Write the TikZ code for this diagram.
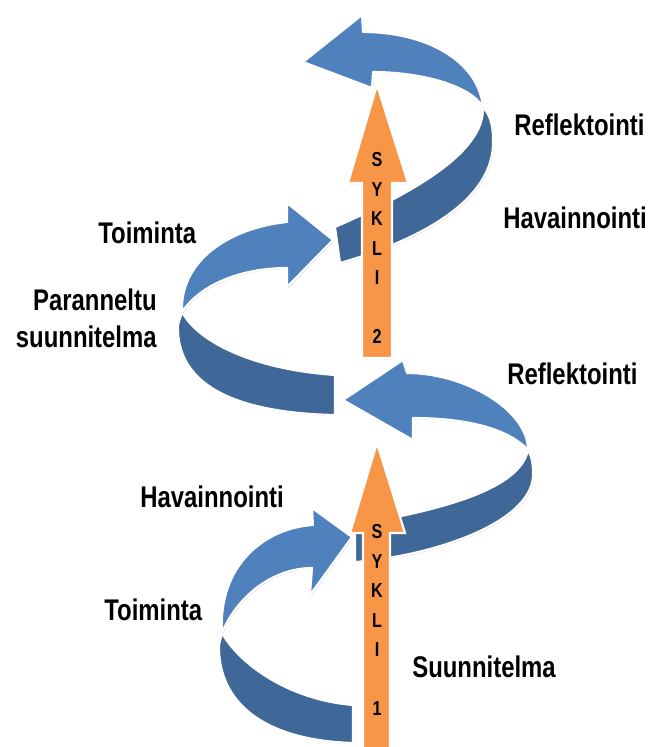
\documentclass[tikz,border=0pt]{standalone}
\usepackage{fontspec}
\usepackage{tikz}
\usetikzlibrary{shapes,arrows,positioning,calc,shadows}
\usepackage{xcolor}
\newfontfamily\phasefont[FakeStretch=0.8]{Liberation Sans}
\definecolor{ribbonlight}{HTML}{4F81BD}
\definecolor{ribbondark}{HTML}{3F6797}
\definecolor{syklicol}{HTML}{F79646}

\begin{document}
\begin{tikzpicture}[
    x=0.02cm, y=-0.02cm,
    ribbon light/.style={fill=ribbonlight, draw=white, line width=1.2pt, line join=round,
        drop shadow={shadow xshift=0.6pt, shadow yshift=-0.6pt, opacity=0.35}},
    ribbon dark/.style={fill=ribbondark, draw=white, line width=1.2pt, line join=round,
        drop shadow={shadow xshift=0.6pt, shadow yshift=-0.6pt, opacity=0.35}},
    cycle arrow/.style={fill=syklicol, draw=white, line width=1.2pt,
        drop shadow={shadow xshift=0.6pt, shadow yshift=-0.6pt, opacity=0.35, fill=brown!70!black}},
    phase/.style={font=\phasefont\bfseries\fontsize{17}{21}\selectfont, inner sep=0pt},
    sykli text/.style={font=\phasefont\bfseries\fontsize{11.5}{16.8}\selectfont, inner sep=0pt, align=center}
]
    \useasboundingbox (0,0) rectangle (652,747);

    % Sykli 2 (top spiral)
    \draw[ribbon dark] (483,107) .. controls (485,150) and (420,190) .. (335,227) -- (340,263)
        .. controls (420,240) and (495,200) .. (493,140) .. controls (493,125) and (490,115) .. cycle;
    \draw[ribbon light] (303,62) -- (362,15) -- (363,32) .. controls (425,32) and (478,60) .. (483,107)
        .. controls (470,85) and (420,72) .. (373,72) -- (372,88) -- cycle;
    \draw[ribbon dark] (182,312) .. controls (200,345) and (260,370) .. (335,375) -- (335,415)
        .. controls (245,413) and (176,390) .. (178,325) -- cycle;
    \draw[ribbon light] (333,240) -- (287,203) -- (287,222) .. controls (230,228) and (180,260) .. (182,312)
        .. controls (200,285) and (240,268) .. (287,268) -- (287,287) -- cycle;
    \draw[cycle arrow] (377,85) -- (408,183) -- (392,183) -- (392,358) -- (362,358) -- (362,183) -- (348,183) -- cycle;
    \node[sykli text] (sykli2) at (377,248) {S\\Y\\K\\L\\I\\~\\2};

    % Sykli 1 (bottom spiral)
    \draw[ribbon dark] (528,450) .. controls (520,490) and (440,510) .. (355,525) -- (355,562)
        .. controls (440,555) and (535,520) .. (533,473) .. controls (533,462) and (531,455) .. cycle;
    \draw[ribbon light] (343,400) -- (403,360) -- (407,373) .. controls (465,373) and (528,410) .. (528,450)
        .. controls (510,430) and (470,418) .. (413,418) -- (413,440) -- cycle;
    \draw[ribbon dark] (222,633) .. controls (240,665) and (290,700) .. (353,705) -- (353,743)
        .. controls (260,740) and (218,700) .. (219,645) -- cycle;
    \draw[ribbon light] (352,537) -- (312,508) -- (313,525) .. controls (265,528) and (218,565) .. (222,633)
        .. controls (235,600) and (270,568) .. (312,568) -- (310,595) -- cycle;
    \draw[cycle arrow] (377,443) -- (405,533) -- (390,533) -- (390,752) -- (363,752) -- (363,533) -- (350,533) -- cycle;
    \node[sykli text] (sykli1) at (377,620) {S\\Y\\K\\L\\I\\~\\1};

    % Vaiheet
    \node[phase, anchor=west] (refl2) at (514,125) {Reflektointi};
    \node[phase, anchor=west] (hav2) at (503,218) {Havainnointi};
    \node[phase, anchor=west] (toim2) at (98,233) {Toiminta};
    \node[phase, anchor=east, align=right] (para) at (157,318) {Paranneltu\\suunnitelma};
    \node[phase, anchor=west] (refl1) at (507,374) {Reflektointi};
    \node[phase, anchor=west] (hav1) at (140,497) {Havainnointi};
    \node[phase, anchor=west] (toim1) at (104,610) {Toiminta};
    \node[phase, anchor=west] (suun) at (412,667) {Suunnitelma};
\end{tikzpicture}
\end{document}
